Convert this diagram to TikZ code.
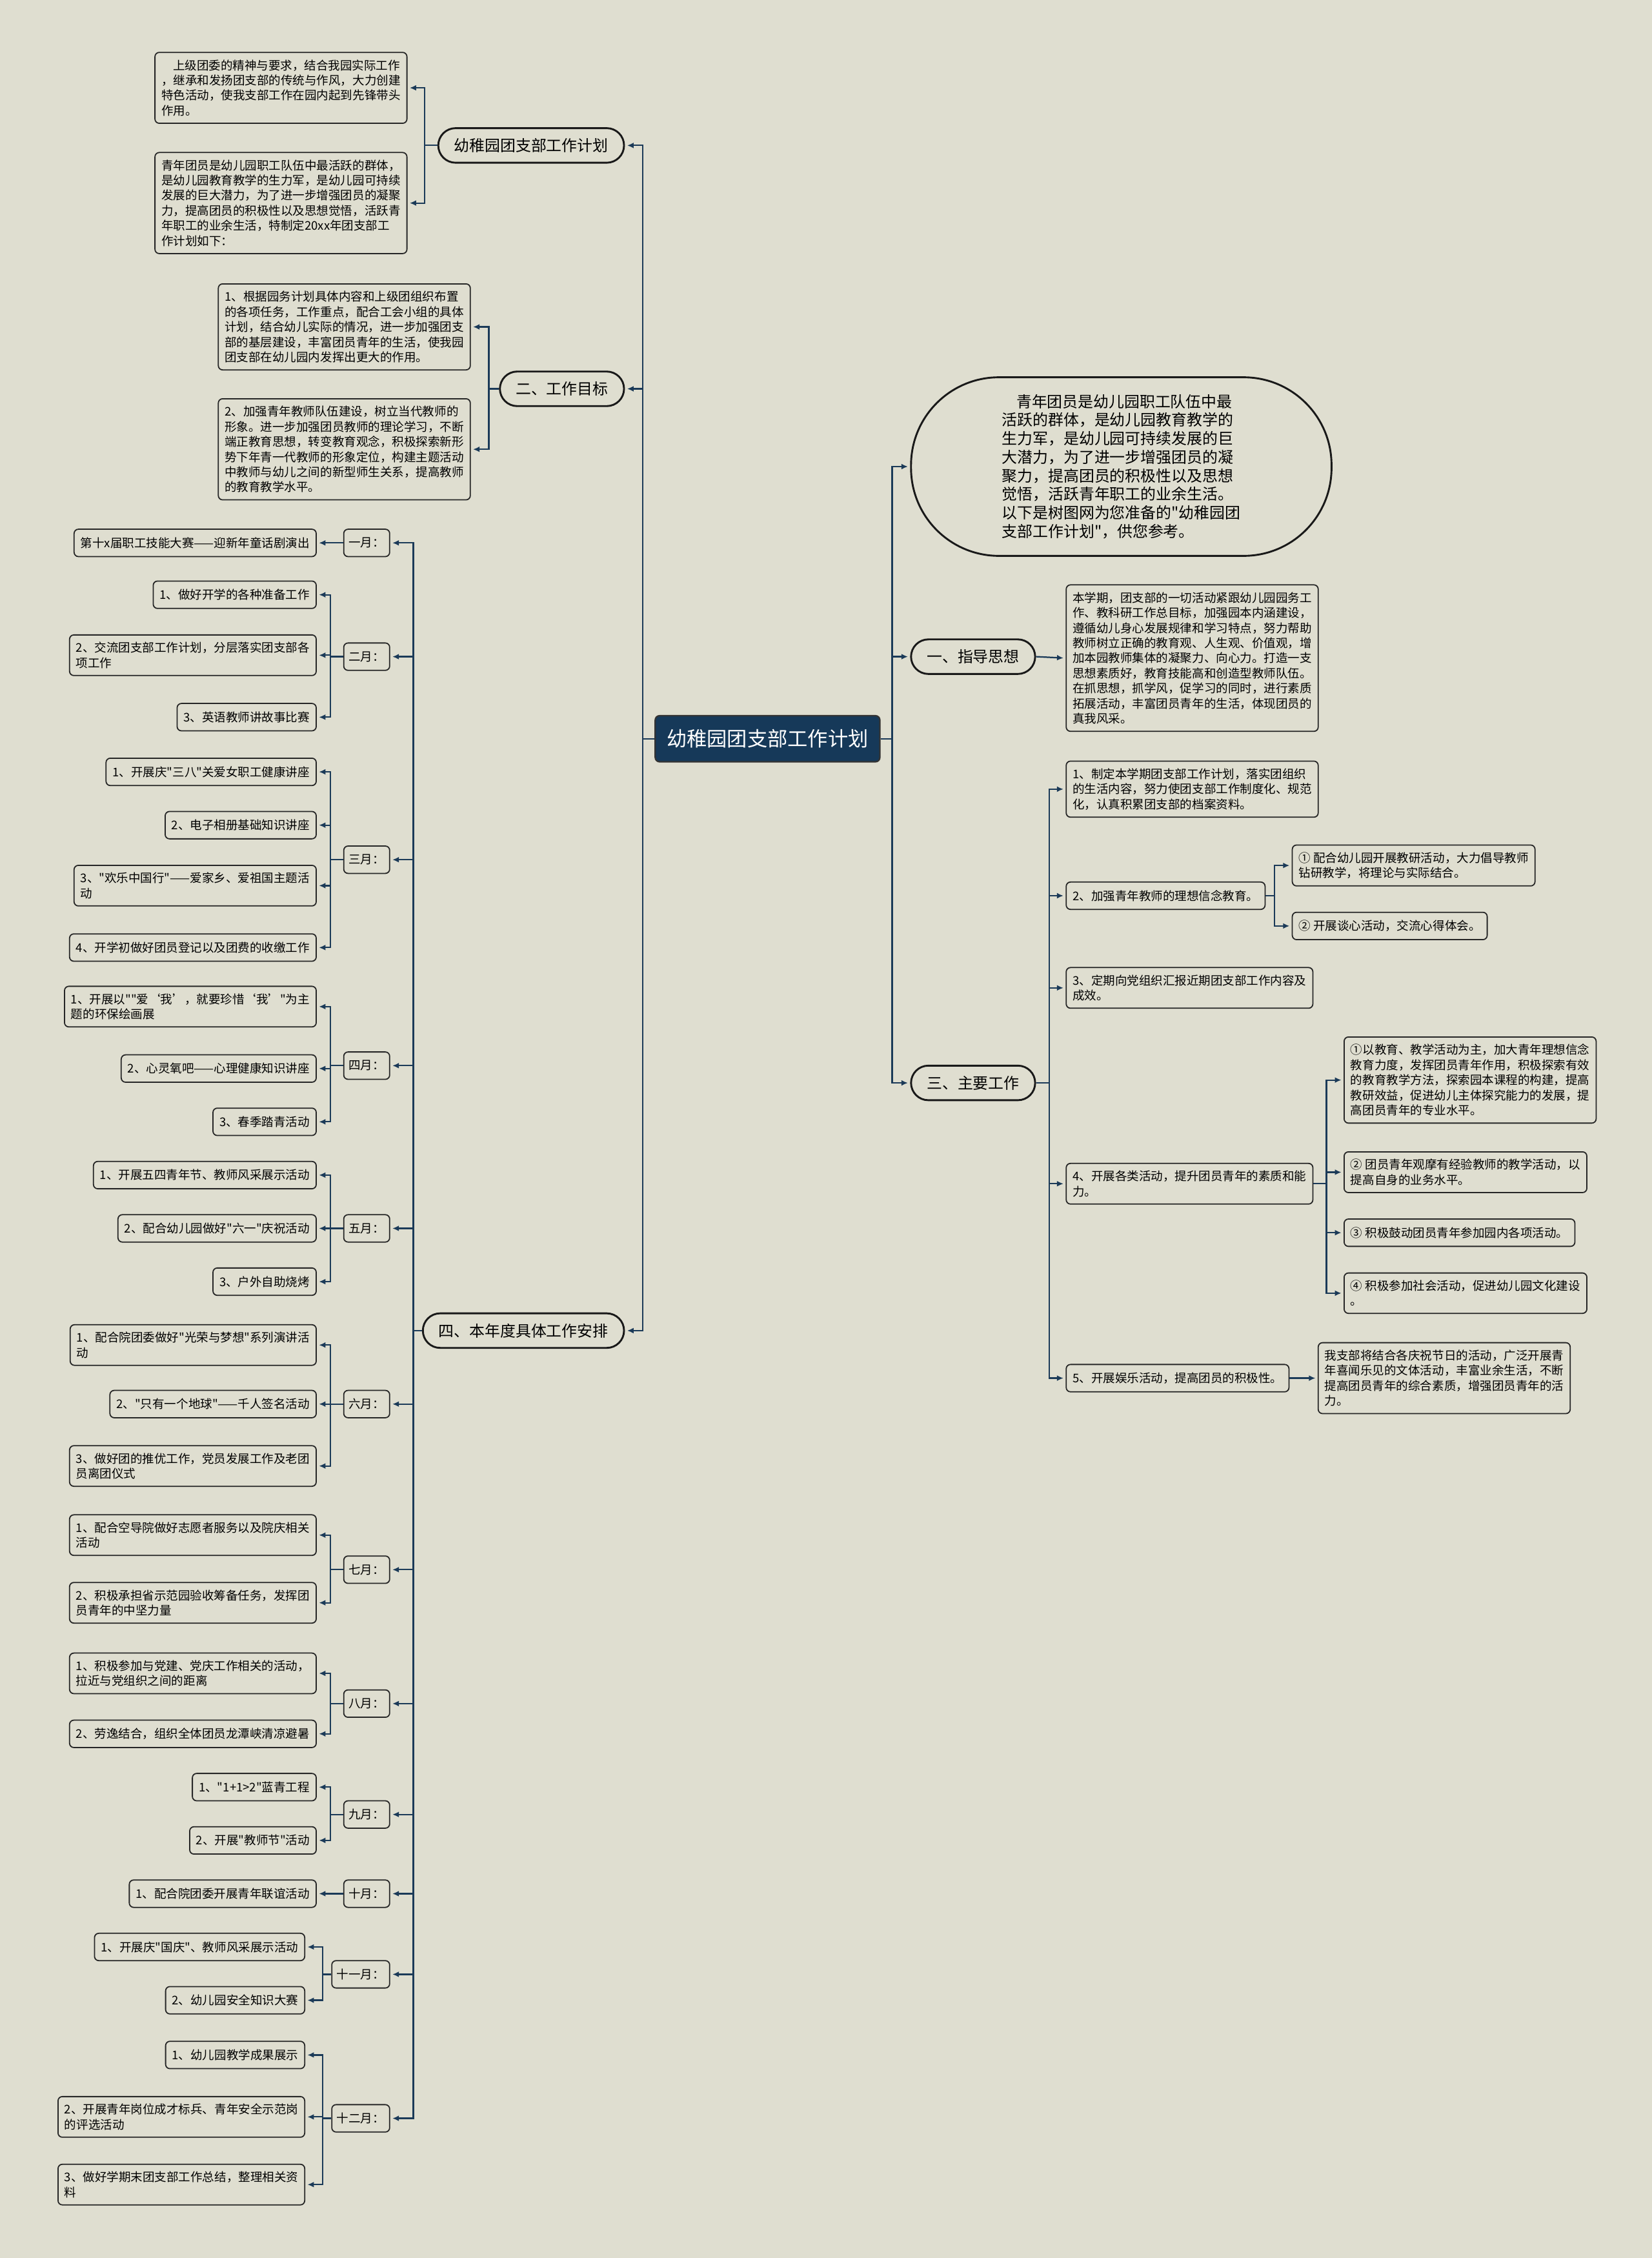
\documentclass[tikz,border=0pt]{standalone}
\usepackage{fontspec}
\setmainfont{Noto Sans CJK SC}[Ligatures=TeXOff]
\usetikzlibrary{arrows.meta, positioning}

\definecolor{bgcol}{RGB}{223,222,208}
\definecolor{linecol}{RGB}{27,58,88}
\definecolor{rootcol}{RGB}{22,57,89}

\begin{document}
\begin{tikzpicture}[x=1pt, y=-1pt,
    box/.style={draw=black!85, fill=bgcol, rounded corners=3pt, line width=0.8pt, align=left,
        inner xsep=4.5pt, inner ysep=5pt, minimum height=19pt, font=\fontsize{8.3}{10.5}\selectfont},
    mon/.style={box, inner xsep=3.5pt},
    branch/.style={draw=black!90, fill=bgcol, rounded corners=12pt, line width=1.3pt,
        minimum height=24pt, inner xsep=11pt, font=\fontsize{10.7}{13}\selectfont},
    root/.style={draw=black!80, fill=rootcol, text=white, rounded corners=3pt, line width=1pt,
        minimum height=32pt, inner xsep=8pt, font=\fontsize{14}{16}\selectfont},
    conn/.style={draw=linecol, line width=1pt, -{Latex[length=4.5pt,width=4pt]}, shorten >=1.5pt}]

    \useasboundingbox (0,0) rectangle (1147,1568);
    \fill[bgcol] (0,0) rectangle (1147,1568);

    \node[root] (root) at (533,513) {幼稚园团支部工作计划};

    \node[branch, anchor=east] (plan) at (434,101) {幼稚园团支部工作计划};
    \node[branch, anchor=east] (goal) at (434,270) {二、工作目标};
    \node[branch, anchor=east] (year) at (434,924) {四、本年度具体工作安排};

    \node[branch, anchor=west, rounded corners=61pt, minimum width=292pt, minimum height=124pt,
        align=left, font=\fontsize{10.7}{12.9}\selectfont] (intro) at (632,324)
        {\hspace*{10pt}青年团员是幼儿园职工队伍中最\\活跃的群体，是幼儿园教育教学的\\生力军，是幼儿园可持续发展的巨\\大潜力，为了进一步增强团员的凝\\聚力，提高团员的积极性以及思想\\觉悟，活跃青年职工的业余生活。\\以下是树图网为您准备的"幼稚园团\\支部工作计划"，供您参考。};
    \node[branch, anchor=west] (idea) at (632,456) {一、指导思想};
    \node[branch, anchor=west] (work) at (632,752) {三、主要工作};

    \node[box, anchor=east] (plana) at (283,61) {\hspace*{8pt}上级团委的精神与要求，结合我园实际工作\\，继承和发扬团支部的传统与作风，大力创建\\特色活动，使我支部工作在园内起到先锋带头\\作用。};
    \node[box, anchor=east] (planb) at (283,141) {青年团员是幼儿园职工队伍中最活跃的群体，\\是幼儿园教育教学的生力军，是幼儿园可持续\\发展的巨大潜力，为了进一步增强团员的凝聚\\力，提高团员的积极性以及思想觉悟，活跃青\\年职工的业余生活，特制定20xx年团支部工\\作计划如下：};

    \node[box, anchor=east] (goala) at (327,227) {1、根据园务计划具体内容和上级团组织布置\\的各项任务，工作重点，配合工会小组的具体\\计划，结合幼儿实际的情况，进一步加强团支\\部的基层建设，丰富团员青年的生活，使我园\\团支部在幼儿园内发挥出更大的作用。};
    \node[box, anchor=east] (goalb) at (327,312) {2、加强青年教师队伍建设，树立当代教师的\\形象。进一步加强团员教师的理论学习，不断\\端正教育思想，转变教育观念，积极探索新形\\势下年青一代教师的形象定位，构建主题活动\\中教师与幼儿之间的新型师生关系，提高教师\\的教育教学水平。};

    \node[box, anchor=west] (ideabox) at (740,457) {本学期，团支部的一切活动紧跟幼儿园园务工\\作、教科研工作总目标，加强园本内涵建设，\\遵循幼儿身心发展规律和学习特点，努力帮助\\教师树立正确的教育观、人生观、价值观，增\\加本园教师集体的凝聚力、向心力。打造一支\\思想素质好，教育技能高和创造型教师队伍。\\在抓思想，抓学风，促学习的同时，进行素质\\拓展活动，丰富团员青年的生活，体现团员的\\真我风采。};

    \node[box, anchor=west] (w1) at (740,548) {1、制定本学期团支部工作计划，落实团组织\\的生活内容，努力使团支部工作制度化、规范\\化，认真积累团支部的档案资料。};
    \node[box, anchor=west] (w2) at (740,622) {2、加强青年教师的理想信念教育。};
    \node[box, anchor=west] (w2a) at (897,601) {① 配合幼儿园开展教研活动，大力倡导教师\\钻研教学，将理论与实际结合。};
    \node[box, anchor=west] (w2b) at (897,643) {② 开展谈心活动，交流心得体会。};
    \node[box, anchor=west] (w3) at (740,686) {3、定期向党组织汇报近期团支部工作内容及\\成效。};
    \node[box, anchor=west] (w4) at (740,822) {4、开展各类活动，提升团员青年的素质和能\\力。};
    \node[box, anchor=west] (w4a) at (933,750) {①以教育、教学活动为主，加大青年理想信念\\教育力度，发挥团员青年作用，积极探索有效\\的教育教学方法，探索园本课程的构建，提高\\教研效益，促进幼儿主体探究能力的发展，提\\高团员青年的专业水平。};
    \node[box, anchor=west] (w4b) at (933,814) {② 团员青年观摩有经验教师的教学活动，以\\提高自身的业务水平。};
    \node[box, anchor=west] (w4c) at (933,856) {③ 积极鼓动团员青年参加园内各项活动。};
    \node[box, anchor=west] (w4d) at (933,898) {④ 积极参加社会活动，促进幼儿园文化建设\\。};
    \node[box, anchor=west] (w5) at (740,957) {5、开展娱乐活动，提高团员的积极性。};
    \node[box, anchor=west] (w5box) at (915,957) {我支部将结合各庆祝节日的活动，广泛开展青\\年喜闻乐见的文体活动，丰富业余生活，不断\\提高团员青年的综合素质，增强团员青年的活\\力。};

    \node[mon, anchor=east] (m1) at (271,377) {一月：};
    \node[mon, anchor=east] (m2) at (271,456) {二月：};
    \node[mon, anchor=east] (m3) at (271,597) {三月：};
    \node[mon, anchor=east] (m4) at (271,740) {四月：};
    \node[mon, anchor=east] (m5) at (271,853) {五月：};
    \node[mon, anchor=east] (m6) at (271,975) {六月：};
    \node[mon, anchor=east] (m7) at (271,1090) {七月：};
    \node[mon, anchor=east] (m8) at (271,1183) {八月：};
    \node[mon, anchor=east] (m9) at (271,1260) {九月：};
    \node[mon, anchor=east] (m10) at (271,1315) {十月：};
    \node[mon, anchor=east] (m11) at (271,1371) {十一月：};
    \node[mon, anchor=east] (m12) at (271,1471) {十二月：};

    \node[box, anchor=east] (m1a) at (220,377) {第十x届职工技能大赛——迎新年童话剧演出};
    \node[box, anchor=east] (m2a) at (220,413) {1、做好开学的各种准备工作};
    \node[box, anchor=east] (m2b) at (220,455) {2、交流团支部工作计划，分层落实团支部各\\项工作};
    \node[box, anchor=east] (m2c) at (220,498) {3、英语教师讲故事比赛};
    \node[box, anchor=east] (m3a) at (220,536) {1、开展庆"三八"关爱女职工健康讲座};
    \node[box, anchor=east] (m3b) at (220,573) {2、电子相册基础知识讲座};
    \node[box, anchor=east] (m3c) at (220,615) {3、"欢乐中国行"——爱家乡、爱祖国主题活\\动};
    \node[box, anchor=east] (m3d) at (220,658) {4、开学初做好团员登记以及团费的收缴工作};
    \node[box, anchor=east] (m4a) at (220,699) {1、开展以""爱‘我’，就要珍惜‘我’"为主\\题的环保绘画展};
    \node[box, anchor=east] (m4b) at (220,742) {2、心灵氧吧——心理健康知识讲座};
    \node[box, anchor=east] (m4c) at (220,779) {3、春季踏青活动};
    \node[box, anchor=east] (m5a) at (220,816) {1、开展五四青年节、教师风采展示活动};
    \node[box, anchor=east] (m5b) at (220,853) {2、配合幼儿园做好"六一"庆祝活动};
    \node[box, anchor=east] (m5c) at (220,890) {3、户外自助烧烤};
    \node[box, anchor=east] (m6a) at (220,934) {1、配合院团委做好"光荣与梦想"系列演讲活\\动};
    \node[box, anchor=east] (m6b) at (220,975) {2、"只有一个地球"——千人签名活动};
    \node[box, anchor=east] (m6c) at (220,1018) {3、做好团的推优工作，党员发展工作及老团\\员离团仪式};
    \node[box, anchor=east] (m7a) at (220,1066) {1、配合空导院做好志愿者服务以及院庆相关\\活动};
    \node[box, anchor=east] (m7b) at (220,1113) {2、积极承担省示范园验收筹备任务，发挥团\\员青年的中坚力量};
    \node[box, anchor=east] (m8a) at (220,1162) {1、积极参加与党建、党庆工作相关的活动，\\拉近与党组织之间的距离};
    \node[box, anchor=east] (m8b) at (220,1204) {2、劳逸结合，组织全体团员龙潭峡清凉避暑};
    \node[box, anchor=east] (m9a) at (220,1241) {1、"1+1>2"蓝青工程};
    \node[box, anchor=east] (m9b) at (220,1278) {2、开展"教师节"活动};
    \node[box, anchor=east] (m10a) at (220,1315) {1、配合院团委开展青年联谊活动};
    \node[box, anchor=east] (m11a) at (212,1352) {1、开展庆"国庆"、教师风采展示活动};
    \node[box, anchor=east] (m11b) at (212,1389) {2、幼儿园安全知识大赛};
    \node[box, anchor=east] (m12a) at (212,1427) {1、幼儿园教学成果展示};
    \node[box, anchor=east] (m12b) at (212,1470) {2、开展青年岗位成才标兵、青年安全示范岗\\的评选活动};
    \node[box, anchor=east] (m12c) at (212,1517) {3、做好学期末团支部工作总结，整理相关资\\料};

    \foreach \b in {plan,goal,year}
        \draw[conn] (root.west) -- ++(-8,0) |- (\b.east);
    \foreach \b in {intro,idea,work}
        \draw[conn] (root.east) -- ++(8,0) |- (\b.west);

    \foreach \c in {plana,planb}
        \draw[conn] (plan.west) -- ++(-9,0) |- (\c.east);
    \foreach \c in {goala,goalb}
        \draw[conn] (goal.west) -- ++(-7,0) |- (\c.east);
    \draw[conn] (idea.east) -- (ideabox.west);

    \foreach \c in {w1,w2,w3,w4,w5}
        \draw[conn] (work.east) -- ++(9,0) |- (\c.west);
    \foreach \c in {w2a,w2b}
        \draw[conn] (w2.east) -- ++(6,0) |- (\c.west);
    \foreach \c in {w4a,w4b,w4c,w4d}
        \draw[conn] (w4.east) -- ++(9,0) |- (\c.west);
    \draw[conn] (w5.east) -- (w5box.west);

    \foreach \m in {m1,m2,m3,m4,m5,m6,m7,m8,m9,m10,m11,m12}
        \draw[conn] (year.west) -- ++(-6,0) |- (\m.east);

    \draw[conn] (m1.west) -- (m1a.east);
    \foreach \c in {m2a,m2b,m2c}
        \draw[conn] (m2.west) -- ++(-9,0) |- (\c.east);
    \foreach \c in {m3a,m3b,m3c,m3d}
        \draw[conn] (m3.west) -- ++(-9,0) |- (\c.east);
    \foreach \c in {m4a,m4b,m4c}
        \draw[conn] (m4.west) -- ++(-9,0) |- (\c.east);
    \foreach \c in {m5a,m5b,m5c}
        \draw[conn] (m5.west) -- ++(-9,0) |- (\c.east);
    \foreach \c in {m6a,m6b,m6c}
        \draw[conn] (m6.west) -- ++(-9,0) |- (\c.east);
    \foreach \c in {m7a,m7b}
        \draw[conn] (m7.west) -- ++(-9,0) |- (\c.east);
    \foreach \c in {m8a,m8b}
        \draw[conn] (m8.west) -- ++(-9,0) |- (\c.east);
    \foreach \c in {m9a,m9b}
        \draw[conn] (m9.west) -- ++(-9,0) |- (\c.east);
    \draw[conn] (m10.west) -- (m10a.east);
    \foreach \c in {m11a,m11b}
        \draw[conn] (m11.west) -- ++(-6,0) |- (\c.east);
    \foreach \c in {m12a,m12b,m12c}
        \draw[conn] (m12.west) -- ++(-6,0) |- (\c.east);
\end{tikzpicture}
\end{document}
